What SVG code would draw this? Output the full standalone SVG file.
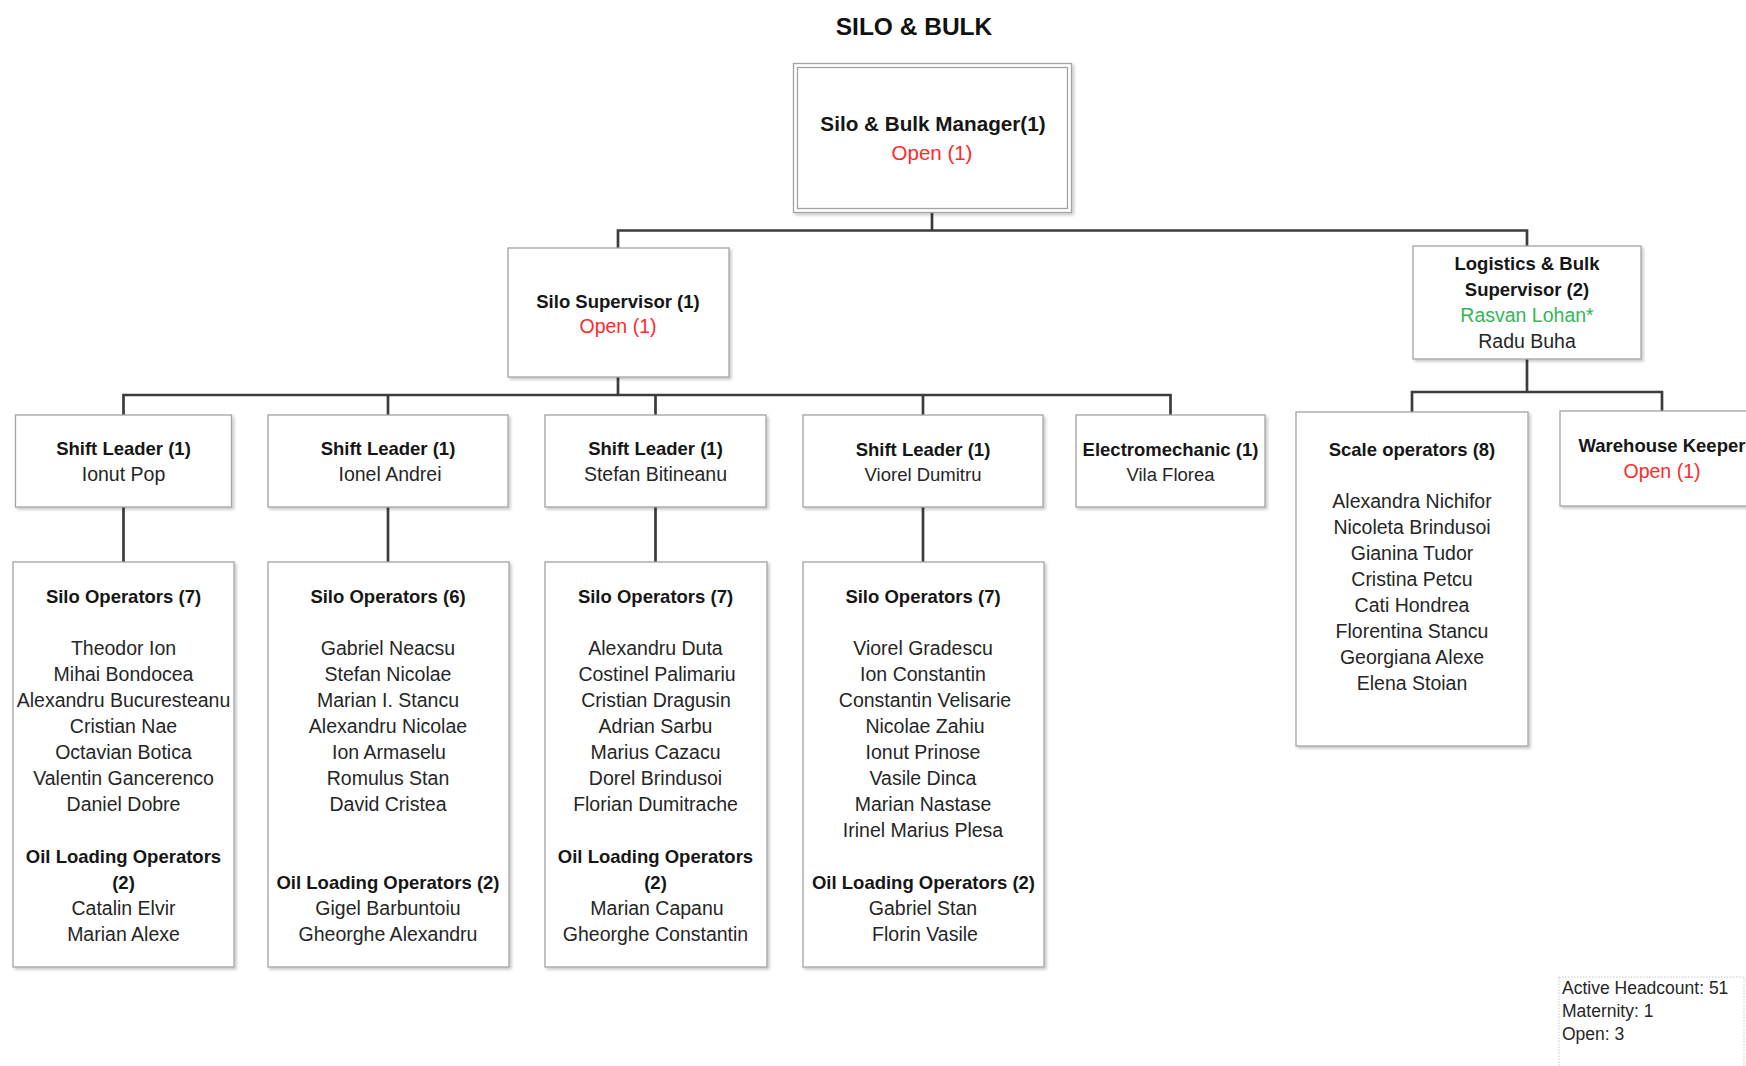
<svg xmlns="http://www.w3.org/2000/svg" width="1746" height="1066" viewBox="0 0 1746 1066">
  <defs>
    <filter id="sh" x="-10%" y="-10%" width="130%" height="130%">
      <feDropShadow dx="2" dy="2" stdDeviation="1.6" flood-color="#000" flood-opacity="0.22"/>
    </filter>
  </defs>
  <style>
    .box { fill: #ffffff; stroke: #a3a3a3; stroke-width: 1.3; filter: url(#sh); }
    .inner { fill: none; stroke: #a3a3a3; stroke-width: 1.3; }
    .legend { fill: #ffffff; stroke: #c8c8c8; stroke-width: 1; stroke-dasharray: 1.5 1.5; }
    .wire { fill: none; stroke: #3c3c3c; stroke-width: 2.7; }
    text { font-family: "Liberation Sans", Arial, sans-serif; text-anchor: middle; }
    .title { font-size: 24.5px; font-weight: bold; fill: #111111; }
    .head { font-size: 20.7px; font-weight: bold; fill: #161616; }
    .b { font-size: 18.5px; font-weight: bold; fill: #161616; }
    .n { font-size: 19.5px; fill: #262626; }
    .open { fill: #ff2a2a; }
    .ok { fill: #36b558; }
    .note { font-size: 17.5px; fill: #262626; text-anchor: start; }
  </style>

  <rect width="1746" height="1066" fill="#ffffff"/>

  <text class="title" x="914" y="35">SILO &amp; BULK</text>

  <!-- connectors -->
  <g id="connectors">
    <path class="wire" d="M932,213 V230.5 M618,248 V230.5 H1527 V246"/>
    <path class="wire" d="M618,377 V395 M123.5,415 V395 H1170.5 V415 M388,395 V415 M655.5,395 V415 M923,395 V415"/>
    <path class="wire" d="M123.5,507 V562 M388,507 V562 M655.5,507 V562 M923,507 V562"/>
    <path class="wire" d="M1527,359 V392 M1412,412 V392 H1662 V411"/>
  </g>

  <g id="manager">
    <rect class="box" x="793.5" y="63.5" width="278" height="149"/>
    <rect class="inner" x="797.5" y="67.5" width="270" height="141"/>
    <text class="head" x="933" y="131">Silo &amp; Bulk Manager(1)</text>
    <text class="n open" x="932" y="160" style="font-size:20.5px">Open (1)</text>
  </g>

  <g id="silo-supervisor">
    <rect class="box" x="508" y="248" width="221" height="129"/>
    <text class="b" x="618" y="307.5">Silo Supervisor (1)</text>
    <text class="n open" x="618" y="333">Open (1)</text>
  </g>

  <g id="logistics-supervisor">
    <rect class="box" x="1413" y="246" width="228" height="113"/>
    <text class="b" x="1527" y="269.5">Logistics &amp; Bulk</text>
    <text class="b" x="1527" y="296">Supervisor (2)</text>
    <text class="n ok" x="1527" y="322">Rasvan Lohan*</text>
    <text class="n" x="1527" y="348">Radu Buha</text>
  </g>

  <g id="shift-leader-1">
    <rect class="box" x="15.5" y="415" width="216" height="92"/>
    <text class="b" x="123.5" y="455">Shift Leader (1)</text>
    <text class="n" x="123.5" y="481">Ionut Pop</text>
  </g>

  <g id="shift-leader-2">
    <rect class="box" x="268" y="415" width="240" height="92"/>
    <text class="b" x="388" y="455">Shift Leader (1)</text>
    <text class="n" x="390" y="481">Ionel Andrei</text>
  </g>

  <g id="shift-leader-3">
    <rect class="box" x="545" y="415" width="221" height="92"/>
    <text class="b" x="655.5" y="455">Shift Leader (1)</text>
    <text class="n" x="655.5" y="481">Stefan Bitineanu</text>
  </g>

  <g id="shift-leader-4">
    <rect class="box" x="803" y="415" width="240" height="92"/>
    <text class="b" x="923" y="456">Shift Leader (1)</text>
    <text class="n" x="923" y="481" style="font-size:18.5px">Viorel Dumitru</text>
  </g>

  <g id="electromechanic">
    <rect class="box" x="1076" y="415" width="189" height="92"/>
    <text class="b" x="1170.5" y="456">Electromechanic (1)</text>
    <text class="n" x="1170.5" y="481" style="font-size:18.5px">Vila Florea</text>
  </g>

  <g id="scale-operators">
    <rect class="box" x="1296" y="412" width="232" height="334"/>
    <text class="b" x="1412" y="456">Scale operators (8)</text>
    <text class="n" x="1412" y="508">Alexandra Nichifor</text>
    <text class="n" x="1412" y="534">Nicoleta Brindusoi</text>
    <text class="n" x="1412" y="560">Gianina Tudor</text>
    <text class="n" x="1412" y="586">Cristina Petcu</text>
    <text class="n" x="1412" y="612">Cati Hondrea</text>
    <text class="n" x="1412" y="638">Florentina Stancu</text>
    <text class="n" x="1412" y="664">Georgiana Alexe</text>
    <text class="n" x="1412" y="690">Elena Stoian</text>
  </g>

  <g id="warehouse-keeper">
    <rect class="box" x="1560" y="411" width="210" height="95"/>
    <text class="b" x="1662" y="452">Warehouse Keeper</text>
    <text class="n open" x="1662" y="478">Open (1)</text>
  </g>

  <g id="silo-operators-1">
    <rect class="box" x="13" y="562" width="221" height="405"/>
    <text class="b" x="123.5" y="603">Silo Operators (7)</text>
    <text class="n" x="123.5" y="655">Theodor Ion</text>
    <text class="n" x="123.5" y="681">Mihai Bondocea</text>
    <text class="n" x="123.5" y="707">Alexandru Bucuresteanu</text>
    <text class="n" x="123.5" y="733">Cristian Nae</text>
    <text class="n" x="123.5" y="759">Octavian Botica</text>
    <text class="n" x="123.5" y="785">Valentin Gancerenco</text>
    <text class="n" x="123.5" y="811">Daniel Dobre</text>
    <text class="b" x="123.5" y="863">Oil Loading Operators</text>
    <text class="b" x="123.5" y="889">(2)</text>
    <text class="n" x="123.5" y="915">Catalin Elvir</text>
    <text class="n" x="123.5" y="941">Marian Alexe</text>
  </g>

  <g id="silo-operators-2">
    <rect class="box" x="268" y="562" width="241" height="405"/>
    <text class="b" x="388" y="603">Silo Operators (6)</text>
    <text class="n" x="388" y="655">Gabriel Neacsu</text>
    <text class="n" x="388" y="681">Stefan Nicolae</text>
    <text class="n" x="388" y="707">Marian I. Stancu</text>
    <text class="n" x="388" y="733">Alexandru Nicolae</text>
    <text class="n" x="389" y="759">Ion Armaselu</text>
    <text class="n" x="388" y="785">Romulus Stan</text>
    <text class="n" x="388" y="811">David Cristea</text>
    <text class="b" x="388" y="889">Oil Loading Operators (2)</text>
    <text class="n" x="388" y="915">Gigel Barbuntoiu</text>
    <text class="n" x="388" y="941">Gheorghe Alexandru</text>
  </g>

  <g id="silo-operators-3">
    <rect class="box" x="545" y="562" width="222" height="405"/>
    <text class="b" x="655.5" y="603">Silo Operators (7)</text>
    <text class="n" x="655.5" y="655">Alexandru Duta</text>
    <text class="n" x="657" y="681">Costinel Palimariu</text>
    <text class="n" x="656" y="707">Cristian Dragusin</text>
    <text class="n" x="655.5" y="733">Adrian Sarbu</text>
    <text class="n" x="655.5" y="759">Marius Cazacu</text>
    <text class="n" x="655.5" y="785">Dorel Brindusoi</text>
    <text class="n" x="655.5" y="811">Florian Dumitrache</text>
    <text class="b" x="655.5" y="863">Oil Loading Operators</text>
    <text class="b" x="655.5" y="889">(2)</text>
    <text class="n" x="657" y="915">Marian Capanu</text>
    <text class="n" x="655.5" y="941">Gheorghe Constantin</text>
  </g>

  <g id="silo-operators-4">
    <rect class="box" x="803" y="562" width="241" height="405"/>
    <text class="b" x="923" y="603">Silo Operators (7)</text>
    <text class="n" x="923" y="655">Viorel Gradescu</text>
    <text class="n" x="923" y="681">Ion Constantin</text>
    <text class="n" x="925" y="707">Constantin Velisarie</text>
    <text class="n" x="925" y="733">Nicolae Zahiu</text>
    <text class="n" x="923" y="759">Ionut Prinose</text>
    <text class="n" x="923" y="785">Vasile Dinca</text>
    <text class="n" x="923" y="811">Marian Nastase</text>
    <text class="n" x="923" y="837">Irinel Marius Plesa</text>
    <text class="b" x="923.5" y="889">Oil Loading Operators (2)</text>
    <text class="n" x="923" y="915">Gabriel Stan</text>
    <text class="n" x="925" y="941">Florin Vasile</text>
  </g>

  <g id="headcount-summary">
    <rect class="legend" x="1559" y="977" width="185" height="95"/>
    <text class="note" x="1562" y="994">Active Headcount: 51</text>
    <text class="note" x="1562" y="1017">Maternity: 1</text>
    <text class="note" x="1562" y="1040">Open: 3</text>
  </g>
</svg>
